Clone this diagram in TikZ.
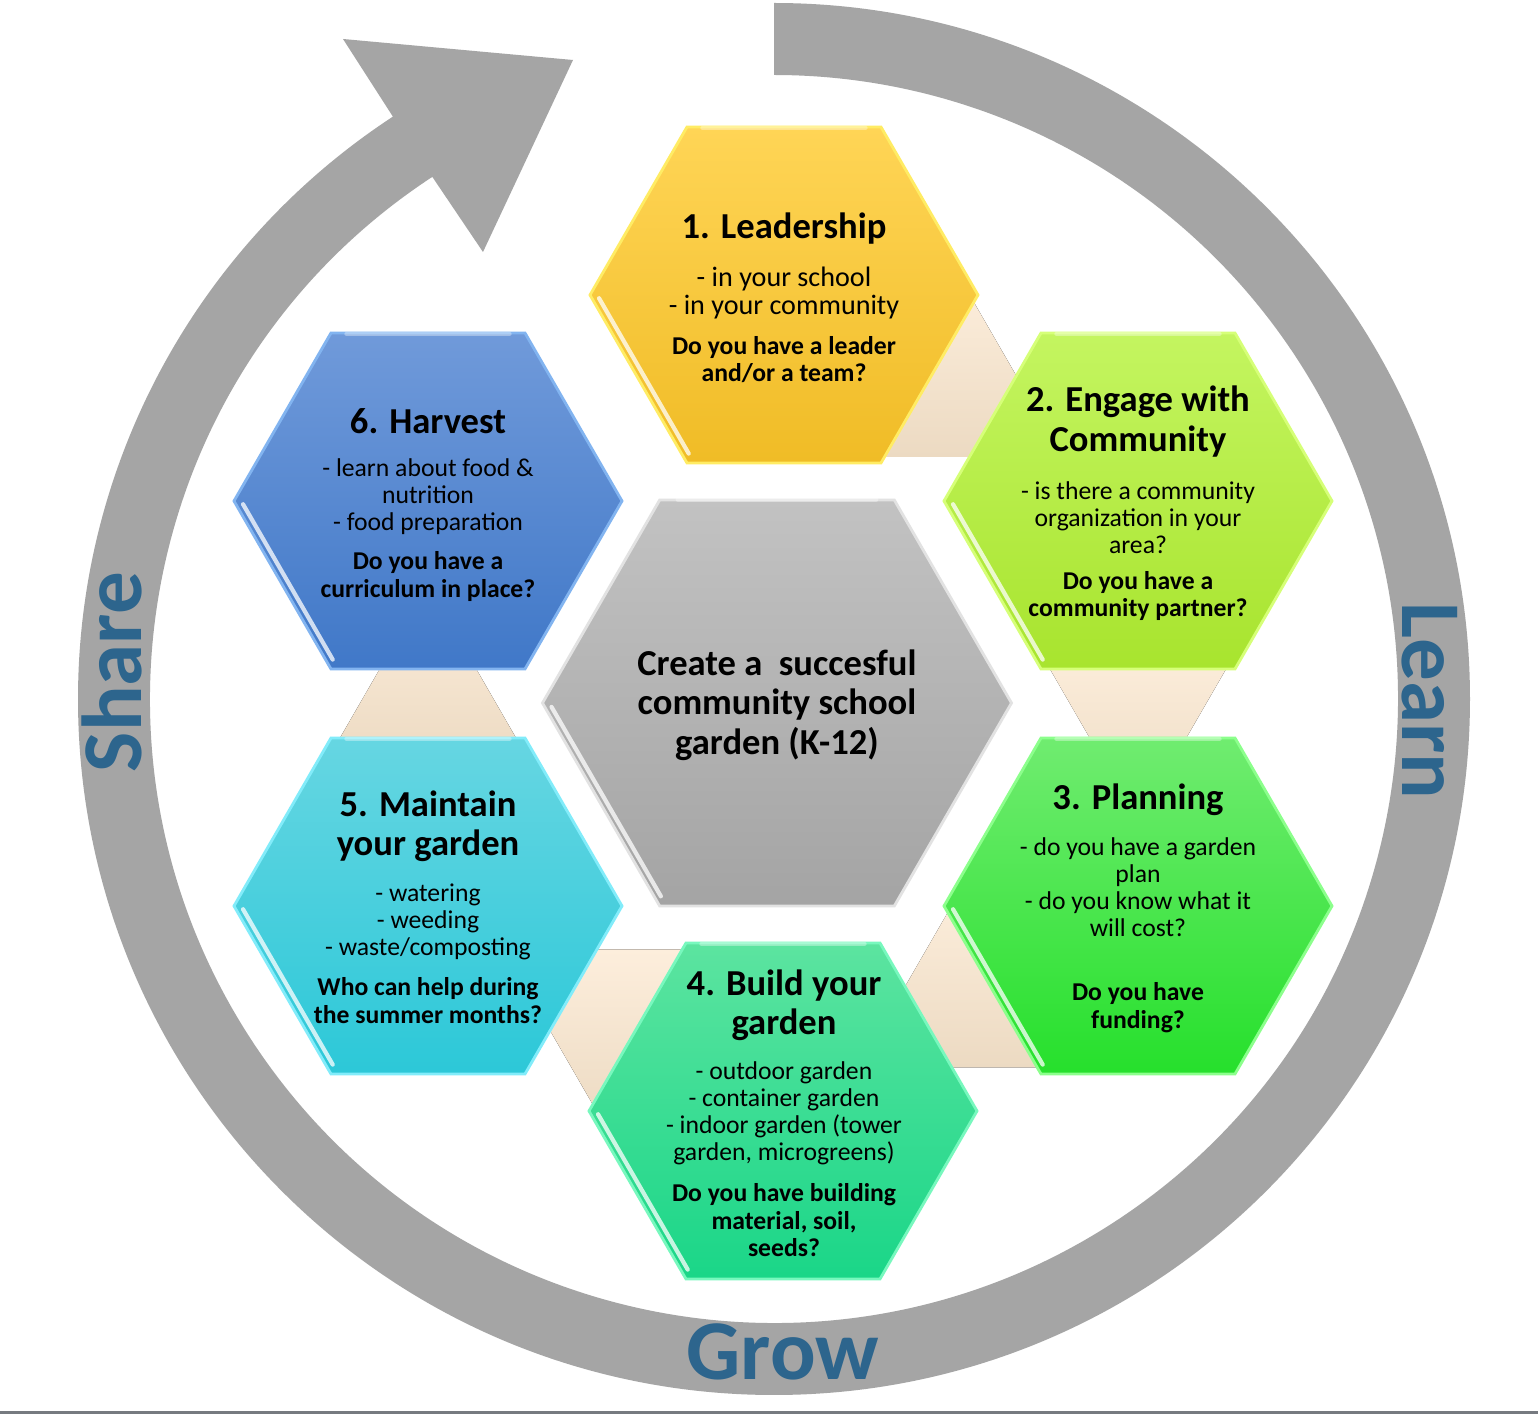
\documentclass[tikz,border=0pt]{standalone}
\usepackage{fontspec}
\setmainfont{Carlito}
\usepackage{tikz}
\usetikzlibrary{calc}

\definecolor{ringgray}{RGB}{165,165,165}
\definecolor{ringblue}{RGB}{45,101,141}
\definecolor{rulegray}{RGB}{118,122,128}
\definecolor{peachtop}{RGB}{253,238,220}
\definecolor{peachbot}{RGB}{236,218,194}
\definecolor{yelT}{RGB}{255,213,86}
\definecolor{yelB}{RGB}{240,188,38}
\definecolor{yelE}{RGB}{255,236,100}
\definecolor{limT}{RGB}{196,245,96}
\definecolor{limB}{RGB}{168,228,46}
\definecolor{limE}{RGB}{214,255,120}
\definecolor{grnT}{RGB}{112,236,112}
\definecolor{grnB}{RGB}{38,224,44}
\definecolor{grnE}{RGB}{140,255,140}
\definecolor{tealT}{RGB}{92,228,160}
\definecolor{tealB}{RGB}{26,214,136}
\definecolor{tealE}{RGB}{120,248,190}
\definecolor{cyanT}{RGB}{102,214,226}
\definecolor{cyanB}{RGB}{44,200,216}
\definecolor{cyanE}{RGB}{130,236,250}
\definecolor{bluT}{RGB}{112,154,218}
\definecolor{bluB}{RGB}{64,120,200}
\definecolor{bluE}{RGB}{130,180,240}
\definecolor{gryT}{RGB}{194,194,194}
\definecolor{gryB}{RGB}{164,164,164}
\definecolor{gryE}{RGB}{226,226,226}

\newcommand{\titlefont}{\fontsize{10.4}{11.2}\selectfont\bfseries}
\newcommand{\bodyfont}{\fontsize{7.3}{7.7}\selectfont}
\newcommand{\leadfont}{\fontsize{8}{8}\selectfont}
\newcommand{\askfont}{\fontsize{7.3}{7.8}\selectfont\bfseries}
\newcommand{\ringfont}{\fontsize{24.2}{29}\selectfont\bfseries}

\begin{document}
\begin{tikzpicture}[x=0.01cm,y=0.01cm,
  steptitle/.style={align=center,font=\titlefont,inner sep=0pt},
  stepbody/.style={align=center,font=\bodyfont,inner sep=0pt},
  stepask/.style={align=center,font=\askfont,inner sep=0pt},
  ringlabel/.style={font=\ringfont,text=ringblue,inner sep=0pt},
  linkarrow/.style={top color=peachtop,bottom color=peachbot},
  hexedge/.style={line width=0.8pt,line join=miter},
  shine/.style={white,opacity=0.75,line width=1.2pt,line cap=round}]
  \useasboundingbox (0,0) rectangle (1538,1414);
  \fill[white] (0,0) rectangle (1538,1414);
  % bottom rule
  \fill[rulegray] (0,0) rectangle (1538,2.5);
  % circular arrow
  \coordinate (ringc) at (774,715);
  \fill[ringgray] ($(ringc)+(90:696)$) arc[start angle=90,end angle=-236.8,radius=696]
    -- (343,1375) -- (573,1354) -- (483,1162)
    -- ($(ringc)+(123.2:624)$) arc[start angle=-236.8,end angle=90,radius=624] -- cycle;
  \node[ringlabel,rotate=90] (share) at (112,742) {Share};
  \node[ringlabel,rotate=-90] (learn) at (1430,713) {Learn};
  \node[ringlabel] (grow) at (783,62) {Grow};
  % hexagon centres
  \coordinate (h0) at (777,711);
  \coordinate (h1) at (784,1119);
  \coordinate (h2) at (1138,913);
  \coordinate (h3) at (1138,508);
  \coordinate (h4) at (783,303);
  \coordinate (h5) at (428,508);
  \coordinate (h6) at (428,913);
  % links between steps
  \foreach \a/\b/\dir in {h1/h2/-30,h2/h3/-90,h3/h4/210,h4/h5/150,h5/h6/90}
    \fill[linkarrow] ($(\a)!0.5!(\b)$) +(\dir:118) -- +(\dir+120:118) -- +(\dir-120:118) -- cycle;
  % hexagons
  \foreach \hx/\rad/\ct/\cb/\ce in {h0/234.5/gryT/gryB/gryE,h1/194/yelT/yelB/yelE,
      h2/194/limT/limB/limE,h3/194/grnT/grnB/grnE,h4/194/tealT/tealB/tealE,
      h5/194/cyanT/cyanB/cyanE,h6/194/bluT/bluB/bluE} {
    \filldraw[hexedge,draw=\ce,top color=\ct,bottom color=\cb] ($(\hx)+(0:\rad)$)
      -- ++(120:\rad) -- ++(180:\rad) -- ++(240:\rad) -- ++(300:\rad) -- ++(0:\rad) -- cycle;
    \draw[shine] ($(\hx)+(181:\rad-9)$) -- ($(\hx)+(239:\rad-9)$);
    \draw[shine,opacity=0.35] ($(\hx)+(116:\rad-8)$) -- ($(\hx)+(64:\rad-8)$);
  }
  % centre
  \node[steptitle] (goal) at (777,709) {Create a\ \ succesful\\community school\\garden (K-12)};
  % 1
  \node[steptitle] (lead) at (784,1185) {1. Leadership};
  \node[stepbody,font=\leadfont] (leadtxt) at (784,1121) {- in your school\\- in your community};
  \node[stepask] (leadask) at (784,1054.5) {Do you have a leader\\and/or a team?};
  % 2
  \node[steptitle] (engage) at (1138,992.5) {2. Engage with\\Community};
  \node[stepbody] (engagetxt) at (1138,896.5) {- is there a community\\organization in your\\area?};
  \node[stepask] (engageask) at (1138,818) {Do you have a\\community partner?};
  % 3
  \node[steptitle] (plan) at (1138,614) {3. Planning};
  \node[stepbody] (plantxt) at (1138,526.5) {- do you have a garden\\plan\\- do you know what it\\will cost?};
  \node[stepask] (planask) at (1138,406.5) {Do you have\\funding?};
  % 4
  \node[steptitle] (build) at (784,408.5) {4. Build your\\garden};
  \node[stepbody] (buildtxt) at (784,301) {- outdoor garden\\- container garden\\- indoor garden (tower\\garden, microgreens)};
  \node[stepask] (buildask) at (784,193.5) {Do you have building\\material, soil,\\seeds?};
  % 5
  \node[steptitle] (keep) at (428,588) {5. Maintain\\your garden};
  \node[stepbody] (keeptxt) at (428,492) {- watering\\- weeding\\- waste/composting};
  \node[stepask] (keepask) at (428,413.5) {Who can help during\\the summer months?};
  % 6
  \node[steptitle] (harvest) at (428,993) {6. Harvest};
  \node[stepbody] (harvesttxt) at (428,917.5) {- learn about food \&\\nutrition\\- food preparation};
  \node[stepask] (harvestask) at (428,837.5) {Do you have a\\curriculum in place?};
\end{tikzpicture}
\end{document}
